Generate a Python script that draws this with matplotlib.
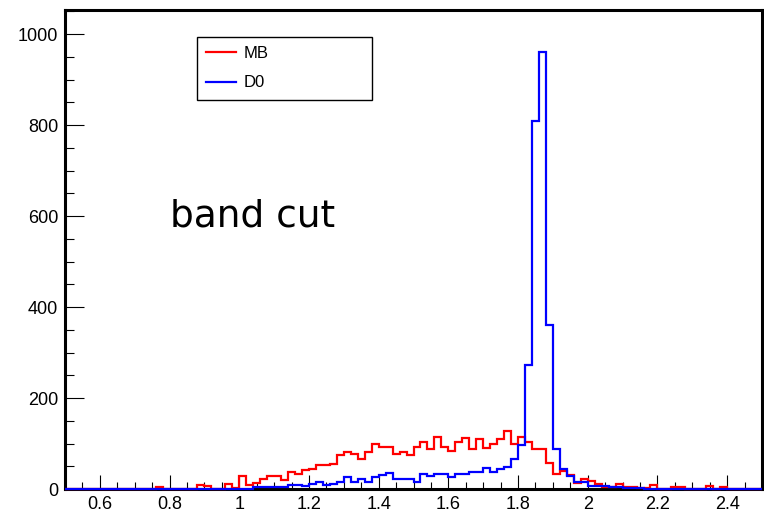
import numpy as np
import matplotlib
matplotlib.use('Agg')
from matplotlib import pyplot as plt
from matplotlib.ticker import MultipleLocator, FuncFormatter

# histogram binning: 100 bins from 0.5 to 2.5
x_min, x_max, n_bins = 0.5, 2.5, 100

# MB (red) counts per bin
mb_counts = [
    0, 0, 0, 0, 0, 0, 0, 0, 0, 0,
    0, 0, 0, 5, 0, 0, 0, 0, 0, 9,
    7, 0, 0, 12, 2, 28, 9, 14, 23, 28,
    28, 20, 38, 34, 42, 45, 53, 53, 56, 75,
    82, 76, 65, 82, 100, 93, 93, 78, 82, 75,
    93, 104, 89, 114, 93, 84, 104, 113, 89, 111,
    91, 99, 110, 128, 99, 115, 104, 89, 89, 58,
    34, 39, 30, 13, 22, 17, 11, 5, 5, 12,
    4, 5, 3, 3, 9, 0, 0, 4, 4, 0,
    0, 0, 7, 0, 4, 0, 0, 0, 0, 0,
]

# D0 (blue) counts per bin
d0_counts = [
    0, 0, 0, 0, 0, 0, 0, 0, 0, 0,
    0, 0, 0, 0, 0, 0, 0, 0, 0, 0,
    0, 0, 0, 0, 0, 1, 1, 4, 4, 4,
    4, 4, 9, 9, 7, 11, 16, 9, 12, 16,
    27, 16, 21, 16, 27, 31, 36, 21, 23, 23,
    16, 32, 29, 34, 34, 26, 34, 34, 38, 37,
    47, 38, 45, 49, 65, 97, 272, 810, 960, 360,
    89, 45, 28, 16, 16, 7, 7, 6, 4, 4,
    3, 2, 2, 1, 1, 1, 1, 1, 1, 1,
    1, 1, 1, 1, 1, 1, 1, 1, 1, 1,
]

edges = np.linspace(x_min, x_max, n_bins + 1)

fig = plt.figure(figsize=(7.64, 5.14), dpi=100)
ax = fig.add_axes([65 / 764, 25 / 514, 697 / 764, 479 / 514])

ax.stairs(mb_counts, edges, color='#ff0000', linewidth=1.6, baseline=0,
          label='MB', zorder=3, clip_on=False)
ax.stairs(d0_counts, edges, color='#0000ff', linewidth=1.6, baseline=0,
          label='D0', zorder=3.1, clip_on=False)

ax.set_xlim(x_min, x_max)
ax.set_ylim(0, 1053)

# ROOT-like frame and ticks
for side in ['left', 'bottom', 'top', 'right']:
    ax.spines[side].set_linewidth(2.2)
ax.xaxis.set_major_locator(MultipleLocator(0.2))
ax.xaxis.set_minor_locator(MultipleLocator(0.05))
ax.yaxis.set_major_locator(MultipleLocator(200))
ax.yaxis.set_minor_locator(MultipleLocator(50))
ax.xaxis.set_major_formatter(FuncFormatter(lambda v, p: '%g' % round(v, 2)))
ax.tick_params(axis='x', which='major', direction='in', length=10, width=0.8, pad=5)
ax.tick_params(axis='x', which='minor', direction='in', length=5, width=0.8)
ax.tick_params(axis='y', which='major', direction='in', length=13.5, width=0.8, pad=5)
ax.tick_params(axis='y', which='minor', direction='in', length=6.5, width=0.8)
for lbl in ax.get_xticklabels() + ax.get_yticklabels():
    lbl.set_family('Liberation Sans')
    lbl.set_fontsize(13)

ax.text(0.801, 578, 'band cut', fontsize=27, family='DejaVu Sans', va='baseline')

leg = ax.legend(loc='upper left', bbox_to_anchor=(0.1894, 0.5, 0.251, 0.4436),
                mode='expand', borderaxespad=0, fancybox=False, framealpha=1,
                edgecolor='black', handlelength=1.8, handletextpad=0.42,
                labelspacing=0.85, borderpad=0.55,
                prop={'family': 'Liberation Sans', 'size': 12})
leg.get_frame().set_linewidth(1.0)

plt.savefig('out.png', dpi=100)
